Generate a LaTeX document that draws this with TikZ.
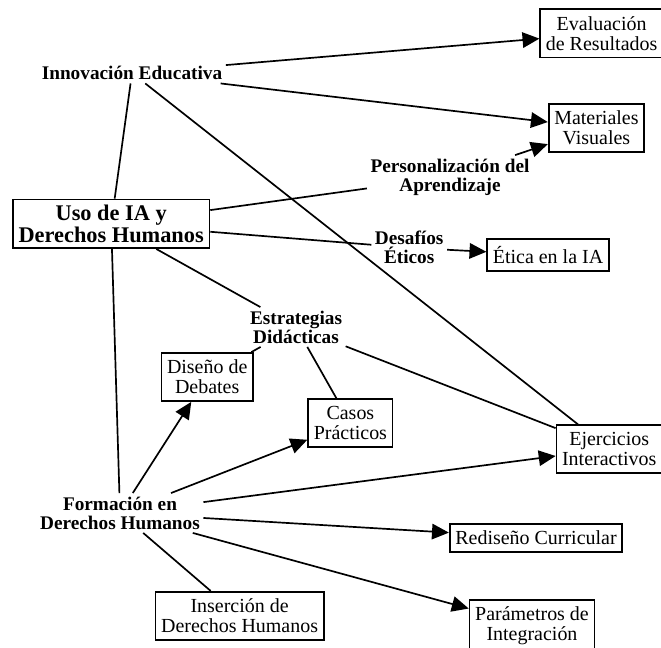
\documentclass[tikz,border=0pt]{standalone}
\usepackage{fontspec}
\setmainfont{Liberation Serif}
\usetikzlibrary{arrows.meta}

\begin{document}
\begin{tikzpicture}[
	box/.style={draw, line width=1.2pt, align=center, inner xsep=4pt, inner ysep=5pt, font=\fontsize{14.2}{14.2}\selectfont},
	topic/.style={align=center, inner sep=2pt, font=\fontsize{13.7}{13.5}\selectfont\bfseries},
	root/.style={draw, line width=1.2pt, align=center, inner sep=4pt, font=\fontsize{15.9}{15.4}\selectfont\bfseries},
	arr/.style={-{Triangle[length=12pt,width=11pt]}},
	line width=1.2pt]
	\useasboundingbox (0,0) rectangle (16.525,16.175);
	
		\node[root] (uso) at (2.78,10.58) {Uso de IA y\\Derechos Humanos};
		
		\node[topic] (innov) at (3.30,14.35) {Innovación Educativa};
		\node[topic] (perso) at (11.25,11.75) {Personalización del\\Aprendizaje};
		\node[topic] (desaf) at (10.23,9.98) {Desafíos\\Éticos};
		\node[topic] (estra) at (7.40,8.00) {Estrategias\\Didácticas};
		\node[topic] (forma) at (3.00,3.35) {Formación en\\Derechos Humanos};
		
		\node[box] (eval) at (15.04,15.34) {Evaluación\\de Resultados};
		\node[box] (mater) at (14.91,12.98) {Materiales\\Visuales};
		\node[box] (etica) at (13.70,9.80) {Ética en la IA};
		\node[box] (disen) at (5.18,6.75) {Diseño de\\Debates};
		\node[box] (casos) at (8.76,5.60) {Casos\\Prácticos};
		\node[box] (ejerc) at (15.23,4.95) {Ejercicios\\Interactivos};
		\node[box] (redis) at (13.40,2.73) {Rediseño Curricular};
		\node[box] (inser) at (5.99,0.78) {Inserción de\\Derechos Humanos};
		\node[box] (param) at (13.30,0.53) {Parámetros de\\Integración};
		
		% desde el nodo central
		\draw (uso) -- (innov);
		\draw (uso) -- (perso);
		\draw (uso) -- (desaf);
		\draw (uso) -- (estra);
		\draw (uso) -- (forma);
		
		\draw[arr] (innov) -- (eval);
		\draw[arr] (innov) -- (mater);
		\draw (innov) -- (ejerc);
		
		\draw[arr] (perso) -- (mater);
		\draw[arr] (desaf) -- (etica);
		
		\draw (estra) -- (disen);
		\draw (estra) -- (casos);
		\draw (estra) -- (ejerc);
		
		\draw[arr] (forma) -- (disen);
		\draw[arr] (forma) -- (casos);
		\draw[arr] (forma) -- (ejerc);
		\draw[arr] (forma) -- (redis);
		\draw (forma) -- (inser);
		\draw[arr] (forma) -- (param);
		
	\end{tikzpicture}
\end{document}
